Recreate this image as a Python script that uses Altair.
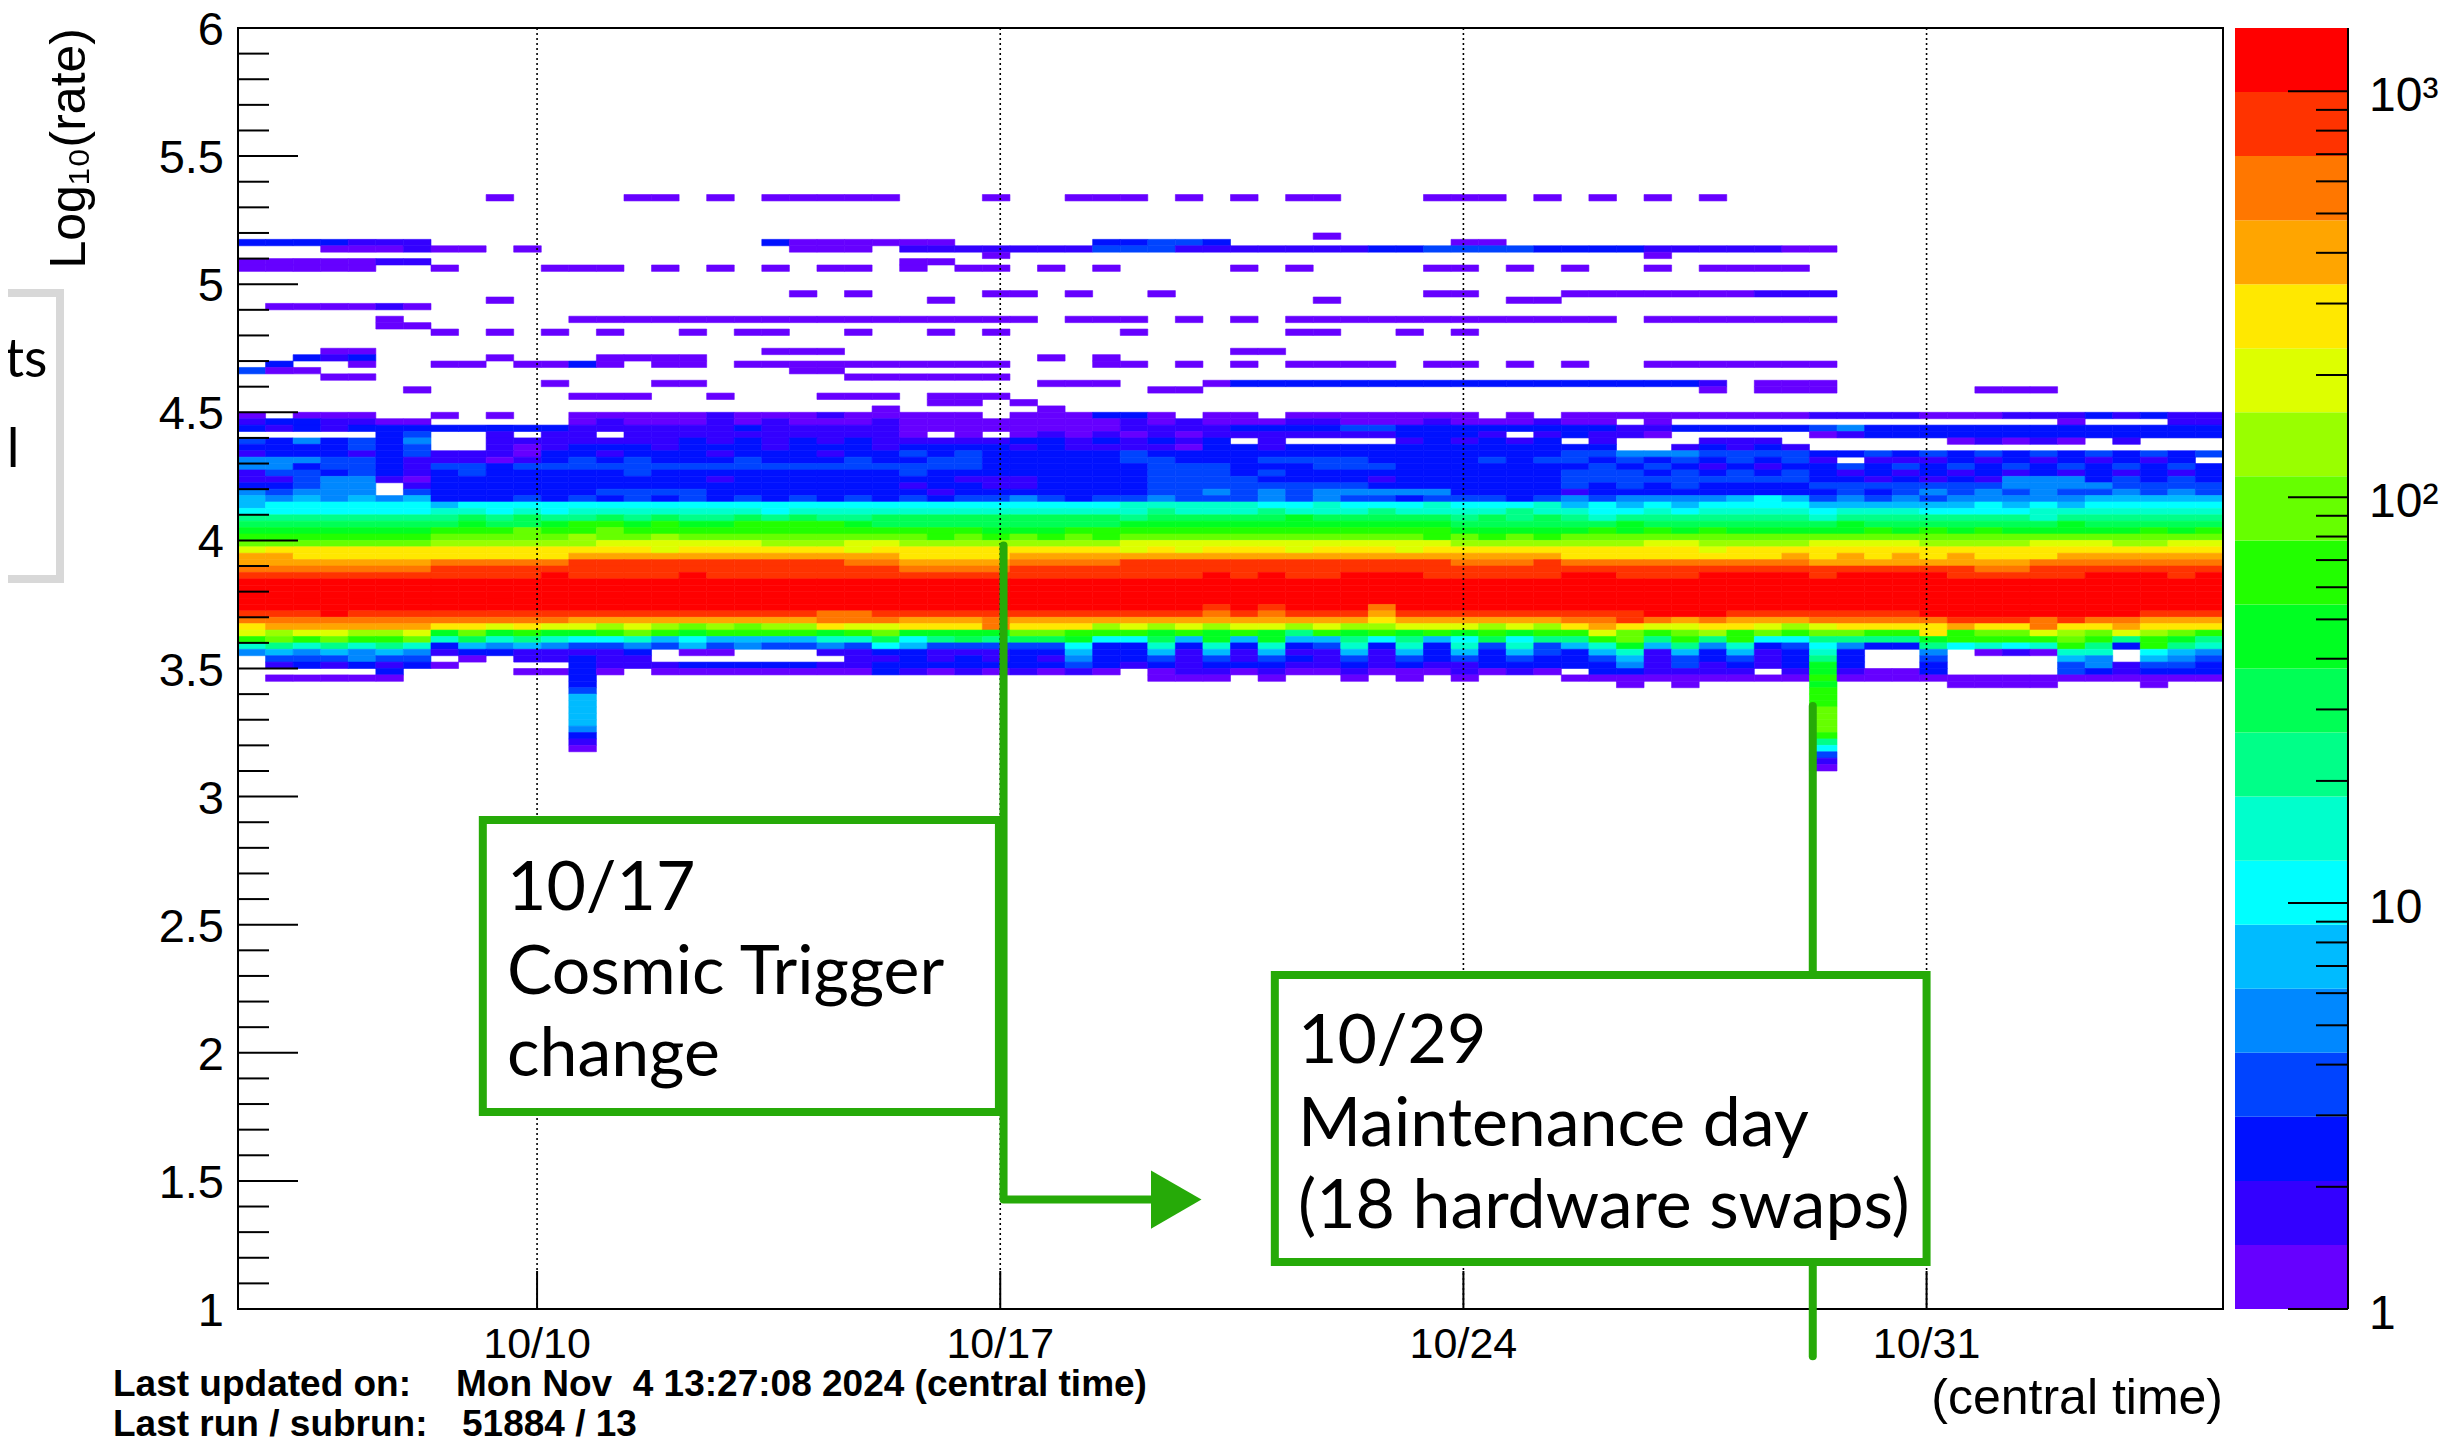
import altair as alt
import pandas as pd

# ---------------------------------------------------------------- binning / ranges
T_START = 4.48          # left frame, in days after 10/01 00:00 (central time)
T_END = 34.48           # right frame (30 days later)
N_TIME_BINS = 72        # 10-hour bins
Y_LOW, Y_HIGH = 1.0, 6.0
Y_BIN = 0.025
Z_MAX = 1432.0          # top of the colour bar

PALETTE = ["#6600ff", "#3300ff", "#0011ff", "#0044ff", "#0088ff", "#00bbff",
           "#00ffff", "#00ffcc", "#00ff88", "#00ff55", "#00ff22", "#22ff00",
           "#66ff00", "#99ff00", "#ddff00", "#ffe800", "#ffa500", "#ff7700",
           "#ff3300", "#ff0000"]
# representative entries for each colour level
LEVEL_COUNTS = [1.2, 1.7, 2.5, 3.6, 5.1, 7.4, 10.6, 15.3, 21.9, 31.6, 45.4, 65.3,
                93.9, 135, 194, 279, 402, 578, 831, 1195]
LEVEL_CODE = ".123456789abcdefghijk"   # '.' empty, '1'..'k' = level 1..20

# main band, rows from log10(rate)=4.475 (top) downward, 72 time bins each (3 x 24)
BAND_TOP_ROW = 4.475
BAND_ROWS = [
    ("1.111..1.1..111112111211", "111.111331.11.1111111.1.", "111111111222211122232322"),
    ("2332211.....121112121112", "111111112121112211121112", "11.1..............1...22"),
    ("323233333333222222322222", "111111112222333344333333", "332233333453333333333333"),
    (".....34..2.22.2222222222", "1.1.121212122222223332.2", "3221.....123333333333333"),
    ("4353435..222222232323232", "222233232323.2....232323", ".2...222......12121.2..."),
    ("3333434..212333233323332", "333323222213323333333333", "33..23232..............."),
    ("233323422213323332333233", "434333334333333333333333", "445554444334343434343434"),
    ("555443222123434333433343", "344333334433344443333434", "4343434342.222323232323."),
    ("553443244344444444444444", "444333333444333444333333", "343432323343434343434343"),
    ("244343234333334333333333", "433333333444343333333333", "444343434323232323232323"),
    ("224552133333333332333333", "332223333444433332333333", "444444444332323255534343"),
    ("33455.233333333333333333", "233223333444444443333333", "434343333444444455554444"),
    ("54555.433333344443333333", "323333333445454555553333", "233333333343454545445454"),
    ("656565633343434343434343", "434454344544454544344434", "545555676454545555566666"),
    ("677777767777777777777777", "777777778888877877787778", "676767777666666767677777"),
    ("777777788787888888878888", "888888888988898889888898", "877878888788877778888888"),
    ("99999999a9a99a9a99a9a99a", "aaaaaaaa9aaaaabaaaaa9a9a", "989999999899999998999999"),
    ("aaaaaaaabaabccbcbbccccba", "aaaaaaaabbbbbbbbbbbbaaaa", "aabaaaaaaabaaaaaaabaaaaa"),
    ("bbbbbbbcccdccdcccccccccc", "cccbbbccccccccccccccbbbb", "bcbcbcbbbbbcbcbcbbbbbcbc"),
    ("cccccccdddddeddedddddddd", "dcdcdcdcdddddddddddcdcdc", "dddddddddddddddddddddddd"),
    ("dddddddeeeeeeffffffeeeff", "eeeeeeeeffffffffffffeeee", "eeeffeeeeffffeeeefffeeff"),
    ("fggggggggggggggfggggggfg", "ggggggggfgfgggfgggfggggg", "gggggfgggggggggggggggggg"),
    ("hhgggggggggghhhhhhhhhhhh", "gggghhhhhhhhhhhhhhhhhhhh", "gggggggghghghghggghhhhhh"),
    ("hhhhhhhiiiiijjjjjjjjjjii", "hhhhiiiijjjjjjjjjjjjiiij", "iiiiiiiiihhhhhhhhiiiiiii"),
    ("iiiiiiijjjjjjjjjjjjjjjjj", "iiiijjjjjjjjjjjjjjjjjjjj", "jjjjjjjjjjjjjjjiijjjjjjj"),
    ("jjjjjjjjjjjkjjjjkjjjjjjj", "jjjjjjjjjjjkjkjjkkkjjjjj", "kkjjjkkkkjkkkkjjjjjkkkjk"),
    ("kkkkkkkkkkkkkkkkkkkkkkkk", "kkkkkkkkkkkkkkkkkkkkkkkk", "kkkkkkkkkkkkkkkkkkkkkkkk"),
    ("kkkkkkkkkkkkkkkkkkkkkkkk", "kkkkkkkkkkkkkkkkkkkkkkkk", "kkkkkkkkkkkkkkkkkkkkkkkk"),
    ("kkkkkkkkkkkkkkkkkkkkkkkk", "kkkkkkkkkkkkkkkkkkkkkkkk", "kkkkkkkkkkkkkkkkkkkkkkkk"),
    ("kkkkkkkkkkkkkkkkkkkkkkkk", "kkkkkkkkkkkkkkkkkkkkkkkk", "kkkkkkkkkkkkkkkkkkkkkkkk"),
    ("kkkkkkkkkkkkkkkkkkkkkkkk", "kkkkkkkkkkkjkjkkkikkkkkk", "kkkkkkkkkkkkkkkkkkkkkkkk"),
    ("jjjkjjjjjjjjjjjjjjjjjiij", "jjjjjjjjjjjijijjjhjjjjjj", "jjjkkkjjjjjjjkkkkkkkkjjj"),
    ("iiiiiiiiiiiihhhhhhhhhiii", "hhhihhhhhhhhhhhhhghhhhhh", "iijihihhhiiiiijjjijiihhh"),
    ("ghhhhhhggfgffefededeegff", "gggigggefefeffefeefffefe", "ghgffggfefgggghggigghggg"),
    ("feffeefbdbcbbcdcbccccbcd", "bbbbddcccbcbcb9cbcbcbcbc", "cfdcdecdcddccgcddfedfedc"),
    ("cdcdccd8a89877867666688a", "79a9aab77a6b6b6697967a79", "9cd9c9c779999bccccdc9cb9"),
    ("898989836565445464544547", "644444733838383483838484", "68b695834753397878c93c98"),
    ("565656523322223.11...223", "322233633626262262636364", "36826362383..5.12188.765"),
    (".444544.1.22322.......22", "323232533424243242434343", "34624342393..4....65.654"),
    (".2323231....322233333223", "333333432323332232322333", "335242323b3..3....452443"),
    (".....3....1131.111111113", "21212121.122121121112121", ".332222.2b2113....432333"),
    (".11111......3...........", ".........111.1..1.1.1...", "111111111c11111111111111"),
]

# sparse cells outside the band: (row low edge, first bin, last bin, level)
SPARSE_SEGMENTS = [
    (5.325, 9, 9, 1), (5.325, 14, 15, 1), (5.325, 17, 17, 1), (5.325, 19, 23, 1),
    (5.325, 27, 27, 1), (5.325, 30, 32, 1), (5.325, 34, 34, 1), (5.325, 36, 36, 1),
    (5.325, 38, 39, 1), (5.325, 43, 45, 1), (5.325, 47, 47, 1), (5.325, 49, 49, 1),
    (5.325, 51, 51, 1), (5.325, 53, 53, 1),
    (5.175, 39, 39, 1),
    (5.15, 0, 3, 3), (5.15, 4, 6, 2), (5.15, 19, 19, 3), (5.15, 20, 25, 1),
    (5.15, 31, 32, 3), (5.15, 33, 34, 4), (5.15, 35, 35, 3), (5.15, 44, 45, 1),
    (5.125, 3, 5, 1), (5.125, 6, 6, 2), (5.125, 7, 8, 1), (5.125, 10, 10, 1),
    (5.125, 20, 22, 1), (5.125, 24, 30, 2), (5.125, 31, 33, 4), (5.125, 34, 40, 2),
    (5.125, 41, 42, 3), (5.125, 43, 46, 4), (5.125, 47, 50, 3), (5.125, 51, 55, 2),
    (5.125, 56, 57, 1),
    (5.1, 27, 27, 1), (5.1, 51, 51, 1),
    (5.075, 0, 4, 1), (5.075, 5, 6, 2), (5.075, 24, 25, 1),
    (5.05, 0, 4, 1), (5.05, 7, 7, 1), (5.05, 11, 13, 1), (5.05, 15, 15, 1),
    (5.05, 17, 17, 1), (5.05, 19, 19, 1), (5.05, 21, 22, 1), (5.05, 24, 24, 1),
    (5.05, 26, 27, 1), (5.05, 29, 29, 1), (5.05, 31, 31, 1), (5.05, 36, 36, 1),
    (5.05, 38, 38, 1), (5.05, 43, 44, 1), (5.05, 46, 46, 1), (5.05, 48, 48, 1),
    (5.05, 51, 51, 1), (5.05, 53, 56, 1),
    (4.95, 20, 20, 1), (4.95, 22, 22, 1), (4.95, 27, 28, 1), (4.95, 30, 30, 1),
    (4.95, 33, 33, 1), (4.95, 43, 44, 1), (4.95, 48, 54, 1), (4.95, 55, 57, 2),
    (4.925, 9, 9, 1), (4.925, 25, 25, 1), (4.925, 39, 39, 1), (4.925, 46, 47, 1),
    (4.9, 1, 4, 1), (4.9, 5, 5, 2), (4.9, 6, 6, 1),
    (4.85, 5, 5, 1), (4.85, 12, 28, 1), (4.85, 30, 32, 1), (4.85, 34, 34, 1),
    (4.85, 36, 36, 1), (4.85, 38, 49, 1), (4.85, 51, 57, 1),
    (4.825, 5, 6, 1),
    (4.8, 7, 7, 1), (4.8, 9, 9, 1), (4.8, 11, 11, 1), (4.8, 13, 13, 1),
    (4.8, 16, 16, 1), (4.8, 18, 19, 1), (4.8, 22, 22, 1), (4.8, 25, 25, 1),
    (4.8, 27, 27, 1), (4.8, 32, 32, 1), (4.8, 38, 39, 1), (4.8, 42, 42, 1),
    (4.8, 44, 44, 1),
    (4.725, 3, 4, 1), (4.725, 19, 21, 1), (4.725, 36, 37, 1),
    (4.7, 2, 2, 3), (4.7, 3, 3, 2), (4.7, 4, 4, 3), (4.7, 9, 9, 1),
    (4.7, 13, 16, 1), (4.7, 29, 29, 1), (4.7, 31, 31, 1),
    (4.675, 1, 1, 3), (4.675, 4, 4, 1), (4.675, 7, 8, 1), (4.675, 10, 11, 1),
    (4.675, 12, 12, 3), (4.675, 13, 13, 1), (4.675, 15, 16, 1), (4.675, 18, 27, 1),
    (4.675, 31, 32, 1), (4.675, 34, 34, 1), (4.675, 36, 36, 1), (4.675, 38, 41, 1),
    (4.675, 43, 44, 1), (4.675, 46, 46, 1), (4.675, 48, 48, 1), (4.675, 51, 57, 1),
    (4.65, 0, 0, 4), (4.65, 1, 2, 1), (4.65, 20, 21, 1),
    (4.625, 3, 4, 1), (4.625, 22, 27, 1),
    (4.6, 11, 11, 1), (4.6, 15, 16, 1), (4.6, 29, 31, 1), (4.6, 35, 35, 1),
    (4.6, 36, 52, 3), (4.6, 53, 53, 2), (4.6, 55, 57, 1),
    (4.575, 6, 6, 1), (4.575, 33, 34, 1), (4.575, 53, 53, 1), (4.575, 55, 57, 1),
    (4.575, 63, 65, 1),
    (4.55, 12, 14, 1), (4.55, 17, 17, 1), (4.55, 21, 23, 1), (4.55, 25, 27, 1),
    (4.525, 25, 26, 1), (4.525, 28, 28, 1),
    (4.5, 23, 23, 1), (4.5, 29, 29, 1),
    (3.425, 50, 50, 1), (3.425, 52, 52, 1), (3.425, 62, 65, 1), (3.425, 69, 69, 1),
]

# the two low-rate excursions: (time bin, levels from row 3.425 downward)
DIP_COLUMNS = [
    (12, [3, 4, 6, 6, 6, 6, 6, 5, 3, 2, 1]),
    (57, [11, 12, 12, 12, 13, 13, 13, 13, 12, 9, 7, 4, 2, 1]),
]

X_TICK_DAYS = [9, 16, 23, 30]
X_TICK_LABELS = ["10/10", "10/17", "10/24", "10/31"]
Y_MAJOR = [1, 1.5, 2, 2.5, 3, 3.5, 4, 4.5, 5, 5.5, 6]
Y_MAJOR_LABELS = ["1", "1.5", "2", "2.5", "3", "3.5", "4", "4.5", "5", "5.5", "6"]
Y_MINOR = [1.1, 1.2, 1.3, 1.4, 1.6, 1.7, 1.8, 1.9, 2.1, 2.2, 2.3, 2.4, 2.6, 2.7,
           2.8, 2.9, 3.1, 3.2, 3.3, 3.4, 3.6, 3.7, 3.8, 3.9, 4.1, 4.2, 4.3, 4.4,
           4.6, 4.7, 4.8, 4.9, 5.1, 5.2, 5.3, 5.4, 5.6, 5.7, 5.8, 5.9]
Z_MAJOR = [1, 10, 100, 1000]
Z_LABELS = ["1", "10", "10²", "10³"]
Z_MINOR = [2, 3, 4, 5, 6, 7, 8, 9, 20, 30, 40, 50, 60, 70, 80, 90,
           200, 300, 400, 500, 600, 700, 800, 900]

# annotations (data coordinates: days, log10 rate)
BOXES = [  # x0, x1, y_low, y_high
    (8.18, 15.98, 1.769, 2.909),
    (20.15, 30.0, 1.183, 2.304),
]
BOX_TEXT = [
    ("10/17", 8.545, 2.557), ("Cosmic Trigger", 8.545, 2.229), ("change", 8.545, 1.909),
    ("10/29", 20.50, 1.960), ("Maintenance day", 20.50, 1.636),
    ("(18 hardware swaps)", 20.50, 1.316),
]
ARROW_PATH = [(16.05, 3.98), (16.05, 1.427), (18.6, 1.427)]
ARROW_HEAD = (18.66, 1.427)
LINE_1029 = [(28.28, 3.354), (28.28, 0.816)]
SIDE_BOX = (-0.63, 1.79, 3.849, 4.966)
SIDE_TEXT = [("ts", 1.60, 4.638, "right"), ("l", 1.08, 4.286, "center")]

# ---------------------------------------------------------------- layout
W, H = 1985, 1281
ROOT_FONT = "Liberation Sans, Arial, Helvetica, sans-serif"
NOTE_FONT = "Lato, Open Sans, sans-serif"
GREEN = "#26aa08"

# ---------------------------------------------------------------- build cells
col_w = (T_END - T_START) / N_TIME_BINS
cells = []


def add_cell(c, v_lo, lvl):
    if lvl <= 0:
        return
    cells.append({"t0": T_START + c * col_w, "t1": T_START + (c + 1) * col_w,
                  "r0": round(v_lo, 4), "r1": round(v_lo + Y_BIN, 4),
                  "count": LEVEL_COUNTS[lvl - 1]})


for i, chunks in enumerate(BAND_ROWS):
    line = "".join((s + "." * 24)[:24] for s in chunks)
    v_lo = BAND_TOP_ROW - i * Y_BIN
    for c, ch in enumerate(line):
        if ch in LEVEL_CODE:
            add_cell(c, v_lo, LEVEL_CODE.index(ch))
for v, c0, c1, lvl in SPARSE_SEGMENTS:
    for c in range(c0, c1 + 1):
        add_cell(c, v, lvl)
for col, levels in DIP_COLUMNS:
    for j, lvl in enumerate(levels):
        add_cell(col, 3.425 - j * Y_BIN, lvl)

cells = pd.DataFrame(cells)
ONE = pd.DataFrame({"k": [0]})

xs = alt.Scale(domain=[T_START, T_END], zero=False, nice=False)
ys = alt.Scale(domain=[Y_LOW, Y_HIGH], zero=False, nice=False)
thresholds = [Z_MAX ** (k / 20) for k in range(1, 20)]


def X(f):
    return alt.X(f, scale=xs, axis=None)


def Y(f):
    return alt.Y(f, scale=ys, axis=None)


heat = alt.Chart(cells).mark_rect(strokeWidth=0.6).encode(
    x=X("t0:Q"), x2="t1", y=Y("r0:Q"), y2="r1",
    color=alt.Color("count:Q", legend=None,
                    scale=alt.Scale(type="threshold", domain=thresholds, range=PALETTE)),
    stroke=alt.Stroke("count:Q", legend=None,
                      scale=alt.Scale(type="threshold", domain=thresholds, range=PALETTE)),
)

xt = pd.DataFrame({"day": X_TICK_DAYS, "label": X_TICK_LABELS})
grid = alt.Chart(xt).mark_rule(color="black", strokeWidth=1.6, strokeDash=[2, 3]).encode(x=X("day:Q"))
xtick = alt.Chart(xt).mark_rule(color="black", strokeWidth=2).encode(
    x=X("day:Q"), y=alt.value(H), y2=alt.value(H - 38))
xlab = alt.Chart(xt).mark_text(font=ROOT_FONT, fontSize=43, align="center",
                               baseline="alphabetic", color="black").encode(
    x=X("day:Q"), y=alt.value(H + 49), text="label:N")

ymaj = pd.DataFrame({"v": Y_MAJOR, "label": Y_MAJOR_LABELS})
ymin = pd.DataFrame({"v": Y_MINOR})
ytick_major = alt.Chart(ymaj).mark_rule(color="black", strokeWidth=2).encode(
    y=Y("v:Q"), x=alt.value(0), x2=alt.value(60))
ytick_minor = alt.Chart(ymin).mark_rule(color="black", strokeWidth=2).encode(
    y=Y("v:Q"), x=alt.value(0), x2=alt.value(31))
ylab = alt.Chart(ymaj).mark_text(font=ROOT_FONT, fontSize=47, align="right",
                                 baseline="middle", dy=3, color="black").encode(
    y=Y("v:Q"), x=alt.value(-14), text="label:N")

frame = alt.Chart(ONE).mark_rect(fillOpacity=0, stroke="black", strokeWidth=2).encode(
    x=alt.value(0), x2=alt.value(W), y=alt.value(0), y2=alt.value(H))


def label(text, x, y, size, align="left", baseline="alphabetic", weight="normal",
          font=ROOT_FONT, angle=0, color="black"):
    return alt.Chart(ONE).mark_text(text=text, fontSize=size, align=align, baseline=baseline,
                                    fontWeight=weight, font=font, angle=angle,
                                    color=color).encode(x=alt.value(x), y=alt.value(y))


ytitle = label("Log₁₀(rate)", -153, 0, 50, align="right", angle=270)
xtitle = label("(central time)", W, 1386, 50, align="right")
foot = [
    label("Last updated on:", -125, 1368, 37, weight="bold"),
    label("Mon Nov\u00a0 4 13:27:08 2024 (central time)", 218, 1368, 37, weight="bold"),
    label("Last run / subrun:", -125, 1408, 37, weight="bold"),
    label("51884 / 13", 224, 1408, 37, weight="bold"),
]

# annotations
line1029 = alt.Chart(pd.DataFrame({"x": [p[0] for p in LINE_1029], "y": [p[1] for p in LINE_1029],
                                   "o": [0, 1]})).mark_line(
    color=GREEN, strokeWidth=8, strokeCap="round").encode(x=X("x:Q"), y=Y("y:Q"), order="o:Q")
boxes = alt.Chart(pd.DataFrame(BOXES, columns=["x0", "x1", "y0", "y1"])).mark_rect(
    fill="white", stroke=GREEN, strokeWidth=8).encode(x=X("x0:Q"), x2="x1", y=Y("y0:Q"), y2="y1")
arrow = alt.Chart(pd.DataFrame({"x": [p[0] for p in ARROW_PATH], "y": [p[1] for p in ARROW_PATH],
                                "o": [0, 1, 2]})).mark_line(
    color=GREEN, strokeWidth=8, strokeCap="round", strokeJoin="round").encode(
    x=X("x:Q"), y=Y("y:Q"), order="o:Q")
head = alt.Chart(pd.DataFrame({"x": [ARROW_HEAD[0]], "y": [ARROW_HEAD[1]]})).mark_point(
    shape="triangle-right", filled=True, size=3400, color=GREEN, opacity=1).encode(
    x=X("x:Q"), y=Y("y:Q"))
notes = alt.Chart(pd.DataFrame(BOX_TEXT, columns=["t", "x", "y"])).mark_text(
    font=NOTE_FONT, fontSize=68, align="left", baseline="alphabetic", color="black").encode(
    x=X("x:Q"), y=Y("y:Q"), text="t:N")
side_box = alt.Chart(pd.DataFrame([SIDE_BOX], columns=["x0", "x1", "y0", "y1"])).mark_rect(
    fillOpacity=0, stroke="#d8d8d8", strokeWidth=8).encode(x=X("x0:Q"), x2="x1", y=Y("y0:Q"), y2="y1")
side_txt = [alt.Chart(pd.DataFrame({"x": [sx], "y": [sy]})).mark_text(
    text=st, font=NOTE_FONT, fontSize=54, align=sa, baseline="alphabetic", color="black").encode(
    x=X("x:Q"), y=Y("y:Q")) for st, sx, sy, sa in SIDE_TEXT]

main = alt.layer(heat, grid, ytick_major, ytick_minor, xtick, frame, ylab, xlab, ytitle, xtitle,
                 *foot, line1029, boxes, arrow, head, notes, side_box, *side_txt)

# colour bar
edges = [Z_MAX ** (k / 20) for k in range(21)]
band_df = pd.DataFrame({"lo": edges[:-1], "hi": edges[1:], "color": PALETTE})
zs = alt.Scale(type="log", domain=[1, Z_MAX], nice=False)
CB_X0, CB_X1 = 1997, 2110
cb_bands = alt.Chart(band_df).mark_rect().encode(
    x=alt.value(CB_X0), x2=alt.value(CB_X1), y=alt.Y("lo:Q", scale=zs, axis=None), y2="hi",
    color=alt.Color("color:N", scale=None))
cb_major = alt.Chart(pd.DataFrame({"z": Z_MAJOR, "label": Z_LABELS}))
cb_tick_major = cb_major.mark_rule(color="black", strokeWidth=2).encode(
    y=alt.Y("z:Q", scale=zs, axis=None), x=alt.value(CB_X1 - 60), x2=alt.value(CB_X1))
cb_tick_minor = alt.Chart(pd.DataFrame({"z": Z_MINOR})).mark_rule(color="black", strokeWidth=2).encode(
    y=alt.Y("z:Q", scale=zs, axis=None), x=alt.value(CB_X1 - 32), x2=alt.value(CB_X1))
cb_line = alt.Chart(ONE).mark_rule(color="black", strokeWidth=2).encode(
    x=alt.value(CB_X1), y=alt.value(0), y2=alt.value(H))
cb_lab = cb_major.mark_text(font=ROOT_FONT, fontSize=48, align="left", baseline="middle",
                            dy=6, color="black").encode(
    y=alt.Y("z:Q", scale=zs, axis=None), x=alt.value(CB_X1 + 21), text="label:N")
cbar = alt.layer(cb_bands, cb_tick_major, cb_tick_minor, cb_line, cb_lab)

chart = alt.layer(main, cbar).resolve_scale(
    y="independent", color="independent", stroke="independent"
).properties(
    width=W, height=H,
    autosize=alt.AutoSizeParams(type="none"),
    padding={"left": 230, "top": 20, "right": 222, "bottom": 136},
).configure_view(strokeWidth=0)

chart.save("out.html", embed_options={"renderer": "svg", "actions": False})
